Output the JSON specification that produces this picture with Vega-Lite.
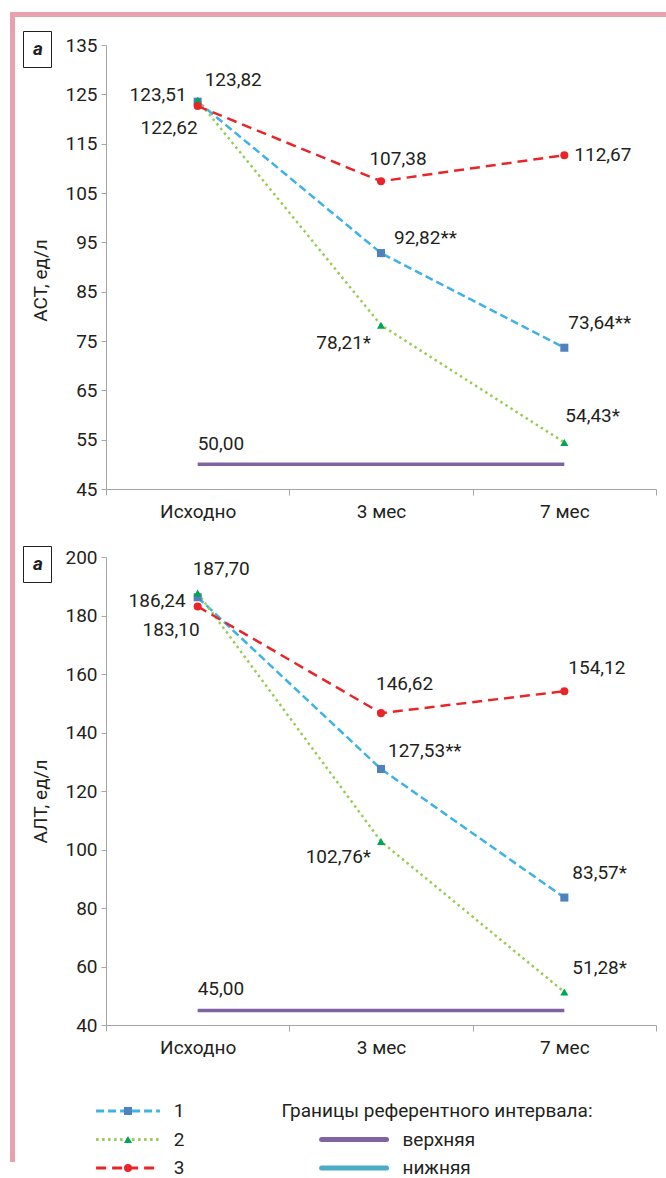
{
  "$schema": "https://vega.github.io/schema/vega-lite/v6.json",
  "background": "white",
  "padding": {"left": 9, "top": 11, "right": 0, "bottom": 0},
  "config": {
    "view": {"stroke": null},
    "font": "Roboto",
    "text": {"font": "Roboto", "fontSize": 19, "color": "#231f20"},
    "axis": {"labelFont": "Roboto", "labelFontSize": 19, "labelColor": "#231f20", "titleFont": "Roboto", "titleFontSize": 19, "titleFontWeight": "normal", "titleColor": "#231f20", "domainColor": "#a6a6a6", "tickColor": "#a6a6a6", "grid": false}
  },
  "bounds": "flush",
  "spacing": 0,
  "hconcat": [
    {"width": 5, "height": 1150, "view": {"fill": "#e9a2ad", "stroke": null}, "data": {"values": [{}]}, "mark": {"type": "point", "opacity": 0}},
    {
      "bounds": "flush",
      "spacing": 28,
      "vconcat": [
        {"width": 652, "height": 5, "view": {"fill": "#e9a2ad", "stroke": null}, "data": {"values": [{}]}, "mark": {"type": "point", "opacity": 0}},
        {
          "bounds": "flush",
          "spacing": 10,
          "hconcat": [
            {"width": 81, "height": 1, "data": {"values": [{}]}, "mark": {"type": "point", "opacity": 0}},
            {
              "bounds": "flush",
              "spacing": 68,
              "resolve": {"scale": {"x": "independent", "y": "independent", "color": "independent", "stroke": "independent", "fill": "independent", "shape": "independent", "strokeDash": "independent"}, "axis": {"x": "independent", "y": "independent"}, "legend": {"color": "independent"}},
              "vconcat": [
                {
                  "width": 550, "height": 444,
                  "data": {"values": [
                    {"m": "Исходно", "s": "1", "v": 123.51, "lab": "123,51"},
                    {"m": "3 мес", "s": "1", "v": 92.82, "lab": "92,82**"},
                    {"m": "7 мес", "s": "1", "v": 73.64, "lab": "73,64**"},
                    {"m": "Исходно", "s": "2", "v": 123.82, "lab": "123,82"},
                    {"m": "3 мес", "s": "2", "v": 78.21, "lab": "78,21*"},
                    {"m": "7 мес", "s": "2", "v": 54.43, "lab": "54,43*"},
                    {"m": "Исходно", "s": "3", "v": 122.62, "lab": "122,62"},
                    {"m": "3 мес", "s": "3", "v": 107.38, "lab": "107,38"},
                    {"m": "7 мес", "s": "3", "v": 112.67, "lab": "112,67"},
                    {"m": "Исходно", "s": "верхняя", "v": 50, "lab": "50,00"},
                    {"m": "3 мес", "s": "верхняя", "v": 50, "lab": ""},
                    {"m": "7 мес", "s": "верхняя", "v": 50, "lab": ""}
                  ]},
                  "layer": [
                    {
                      "encoding": {
                        "x": {"field": "m", "type": "nominal", "scale": {"type": "band", "domain": ["Исходно", "3 мес", "7 мес"], "paddingInner": 0, "paddingOuter": 0}, "axis": {"title": null, "labelAngle": 0, "tickBand": "extent", "tickSize": 6, "labelPadding": 7}},
                        "y": {"field": "v", "type": "quantitative", "scale": {"domain": [45, 135], "nice": false, "zero": false}, "axis": {"title": "АСТ, ед/л", "values": [45, 55, 65, 75, 85, 95, 105, 115, 125, 135], "tickSize": 5, "labelPadding": 4, "titleX": -56, "titleY": 235, "titleAngle": -90, "titleBaseline": "bottom", "titleAlign": "center"}}
                      },
                      "layer": [
                        {"transform": [{"filter": "datum.s=='верхняя'"}], "mark": {"type": "line", "color": "#8064a2", "strokeWidth": 3.5}, "encoding": {}},
                        {"transform": [{"filter": "datum.s!='верхняя'"}], "mark": {"type": "line", "strokeWidth": 2.5}, "encoding": {
                          "stroke": {"field": "s", "type": "nominal", "scale": {"domain": ["1", "2", "3"], "range": ["#3fb2e6", "#99cc55", "#e8262a"]}, "legend": null},
                          "strokeDash": {"field": "s", "type": "nominal", "scale": {"domain": ["1", "2", "3"], "range": [[8, 4], [2.5, 3.5], [10, 6]]}, "legend": null}}},
                        {"transform": [{"filter": "datum.s!='верхняя'"}], "mark": {"type": "point", "filled": true, "opacity": 1, "size": 65}, "encoding": {
                          "fill": {"field": "s", "type": "nominal", "scale": {"domain": ["1", "2", "3"], "range": ["#4f81bd", "#00a651", "#e8262a"]}, "legend": null},
                          "shape": {"field": "s", "type": "nominal", "scale": {"domain": ["1", "2", "3"], "range": ["square", "triangle-up", "circle"]}, "legend": null}}},
                        {"transform": [{"filter": "datum.s=='1' && datum.m=='Исходно'"}], "mark": {"type": "text", "align": "right", "baseline": "middle", "dx": -11, "dy": -7}, "encoding": {"text": {"field": "lab"}}},
                        {"transform": [{"filter": "datum.s=='2' && datum.m=='Исходно'"}], "mark": {"type": "text", "align": "left", "baseline": "middle", "dx": 7, "dy": -20}, "encoding": {"text": {"field": "lab"}}},
                        {"transform": [{"filter": "datum.s=='3' && datum.m=='Исходно'"}], "mark": {"type": "text", "align": "right", "baseline": "middle", "dx": 0, "dy": 22}, "encoding": {"text": {"field": "lab"}}},
                        {"transform": [{"filter": "datum.s=='3' && datum.m=='3 мес'"}], "mark": {"type": "text", "align": "center", "baseline": "middle", "dx": 17, "dy": -22}, "encoding": {"text": {"field": "lab"}}},
                        {"transform": [{"filter": "datum.s=='3' && datum.m=='7 мес'"}], "mark": {"type": "text", "align": "left", "baseline": "middle", "dx": 10, "dy": 0}, "encoding": {"text": {"field": "lab"}}},
                        {"transform": [{"filter": "datum.s=='1' && datum.m=='3 мес'"}], "mark": {"type": "text", "align": "left", "baseline": "middle", "dx": 13, "dy": -15}, "encoding": {"text": {"field": "lab"}}},
                        {"transform": [{"filter": "datum.s=='1' && datum.m=='7 мес'"}], "mark": {"type": "text", "align": "left", "baseline": "middle", "dx": 4, "dy": -25}, "encoding": {"text": {"field": "lab"}}},
                        {"transform": [{"filter": "datum.s=='2' && datum.m=='3 мес'"}], "mark": {"type": "text", "align": "right", "baseline": "middle", "dx": -10, "dy": 18}, "encoding": {"text": {"field": "lab"}}},
                        {"transform": [{"filter": "datum.s=='2' && datum.m=='7 мес'"}], "mark": {"type": "text", "align": "left", "baseline": "middle", "dx": 1, "dy": -26}, "encoding": {"text": {"field": "lab"}}},
                        {"transform": [{"filter": "datum.s=='верхняя' && datum.m=='Исходно'"}], "mark": {"type": "text", "align": "left", "baseline": "middle", "dx": 0, "dy": -20}, "encoding": {"text": {"field": "lab"}}}
                      ]
                    },
                    {
                      "data": {"values": [{"k": "a"}]},
                      "mark": {"type": "point", "opacity": 0, "size": 1},
                      "encoding": {"color": {"field": "k", "type": "nominal", "scale": {"range": ["transparent"]}, "legend": {"orient": "none", "legendX": -83, "legendY": -14, "title": null, "padding": 8, "strokeColor": "#231f20", "labelFont": "Roboto", "labelColor": "#231f20", "labelFontStyle": "italic", "labelFontWeight": "bold", "labelFontSize": 19, "symbolSize": 1, "labelOffset": -17, "symbolStrokeWidth": 0}}}
                    }
                  ]
                },
                {
                  "width": 550, "height": 468,
                  "data": {"values": [
                    {"m": "Исходно", "s": "1", "v": 186.24, "lab": "186,24"},
                    {"m": "3 мес", "s": "1", "v": 127.53, "lab": "127,53**"},
                    {"m": "7 мес", "s": "1", "v": 83.57, "lab": "83,57*"},
                    {"m": "Исходно", "s": "2", "v": 187.70, "lab": "187,70"},
                    {"m": "3 мес", "s": "2", "v": 102.76, "lab": "102,76*"},
                    {"m": "7 мес", "s": "2", "v": 51.28, "lab": "51,28*"},
                    {"m": "Исходно", "s": "3", "v": 183.10, "lab": "183,10"},
                    {"m": "3 мес", "s": "3", "v": 146.62, "lab": "146,62"},
                    {"m": "7 мес", "s": "3", "v": 154.12, "lab": "154,12"},
                    {"m": "Исходно", "s": "верхняя", "v": 45, "lab": "45,00"},
                    {"m": "3 мес", "s": "верхняя", "v": 45, "lab": ""},
                    {"m": "7 мес", "s": "верхняя", "v": 45, "lab": ""}
                  ]},
                  "layer": [
                    {
                      "encoding": {
                        "x": {"field": "m", "type": "nominal", "scale": {"type": "band", "domain": ["Исходно", "3 мес", "7 мес"], "paddingInner": 0, "paddingOuter": 0}, "axis": {"title": null, "labelAngle": 0, "tickBand": "extent", "tickSize": 6, "labelPadding": 7}},
                        "y": {"field": "v", "type": "quantitative", "scale": {"domain": [40, 200], "nice": false, "zero": false}, "axis": {"title": "АЛТ, ед/л", "values": [40, 60, 80, 100, 120, 140, 160, 180, 200], "tickSize": 5, "labelPadding": 4, "titleX": -56, "titleY": 244, "titleAngle": -90, "titleBaseline": "bottom", "titleAlign": "center"}}
                      },
                      "layer": [
                        {"transform": [{"filter": "datum.s=='верхняя'"}], "mark": {"type": "line", "color": "#8064a2", "strokeWidth": 3.5}, "encoding": {}},
                        {"transform": [{"filter": "datum.s!='верхняя'"}], "mark": {"type": "line", "strokeWidth": 2.5}, "encoding": {
                          "stroke": {"field": "s", "type": "nominal", "scale": {"domain": ["1", "2", "3"], "range": ["#3fb2e6", "#99cc55", "#e8262a"]}, "legend": null},
                          "strokeDash": {"field": "s", "type": "nominal", "scale": {"domain": ["1", "2", "3"], "range": [[8, 4], [2.5, 3.5], [10, 6]]}, "legend": null}}},
                        {"transform": [{"filter": "datum.s!='верхняя'"}], "mark": {"type": "point", "filled": true, "opacity": 1, "size": 65}, "encoding": {
                          "fill": {"field": "s", "type": "nominal", "scale": {"domain": ["1", "2", "3"], "range": ["#4f81bd", "#00a651", "#e8262a"]}, "legend": null},
                          "shape": {"field": "s", "type": "nominal", "scale": {"domain": ["1", "2", "3"], "range": ["square", "triangle-up", "circle"]}, "legend": null}}},
                        {"transform": [{"filter": "datum.s=='1' && datum.m=='Исходно'"}], "mark": {"type": "text", "align": "right", "baseline": "middle", "dx": -12, "dy": 4}, "encoding": {"text": {"field": "lab"}}},
                        {"transform": [{"filter": "datum.s=='2' && datum.m=='Исходно'"}], "mark": {"type": "text", "align": "left", "baseline": "middle", "dx": -5, "dy": -24}, "encoding": {"text": {"field": "lab"}}},
                        {"transform": [{"filter": "datum.s=='3' && datum.m=='Исходно'"}], "mark": {"type": "text", "align": "right", "baseline": "middle", "dx": 2, "dy": 24}, "encoding": {"text": {"field": "lab"}}},
                        {"transform": [{"filter": "datum.s=='3' && datum.m=='3 мес'"}], "mark": {"type": "text", "align": "left", "baseline": "middle", "dx": -5, "dy": -29}, "encoding": {"text": {"field": "lab"}}},
                        {"transform": [{"filter": "datum.s=='3' && datum.m=='7 мес'"}], "mark": {"type": "text", "align": "left", "baseline": "middle", "dx": 4, "dy": -23}, "encoding": {"text": {"field": "lab"}}},
                        {"transform": [{"filter": "datum.s=='1' && datum.m=='3 мес'"}], "mark": {"type": "text", "align": "left", "baseline": "middle", "dx": 7, "dy": -18}, "encoding": {"text": {"field": "lab"}}},
                        {"transform": [{"filter": "datum.s=='1' && datum.m=='7 мес'"}], "mark": {"type": "text", "align": "left", "baseline": "middle", "dx": 8, "dy": -25}, "encoding": {"text": {"field": "lab"}}},
                        {"transform": [{"filter": "datum.s=='2' && datum.m=='3 мес'"}], "mark": {"type": "text", "align": "right", "baseline": "middle", "dx": -10, "dy": 16}, "encoding": {"text": {"field": "lab"}}},
                        {"transform": [{"filter": "datum.s=='2' && datum.m=='7 мес'"}], "mark": {"type": "text", "align": "left", "baseline": "middle", "dx": 8, "dy": -24}, "encoding": {"text": {"field": "lab"}}},
                        {"transform": [{"filter": "datum.s=='верхняя' && datum.m=='Исходно'"}], "mark": {"type": "text", "align": "left", "baseline": "middle", "dx": 0, "dy": -21}, "encoding": {"text": {"field": "lab"}}}
                      ]
                    },
                    {
                      "data": {"values": [{"k": "a"}]},
                      "mark": {"type": "point", "opacity": 0, "size": 1},
                      "encoding": {"color": {"field": "k", "type": "nominal", "scale": {"range": ["transparent"]}, "legend": {"orient": "none", "legendX": -83, "legendY": -11, "title": null, "padding": 8, "strokeColor": "#231f20", "labelFont": "Roboto", "labelColor": "#231f20", "labelFontStyle": "italic", "labelFontWeight": "bold", "labelFontSize": 19, "symbolSize": 1, "labelOffset": -17, "symbolStrokeWidth": 0}}}
                    }
                  ]
                },
                {
                  "width": 550, "height": 93,
                  "resolve": {"scale": {"y": "independent", "stroke": "independent"}},
                  "layer": [
                    {
                      "data": {"values": [{"s": "1"}, {"s": "2"}, {"s": "3"}]},
                      "encoding": {"y": {"field": "s", "type": "nominal", "scale": {"type": "point", "domain": ["1", "2", "3"], "padding": 0.63}, "axis": null}},
                      "layer": [
                        {"mark": {"type": "rule", "strokeWidth": 3}, "encoding": {
                          "x": {"datum": -1.8, "type": "quantitative", "scale": {"domain": [0, 100]}, "axis": null},
                          "x2": {"datum": 9.8},
                          "stroke": {"field": "s", "type": "nominal", "scale": {"domain": ["1", "2", "3"], "range": ["#3fb2e6", "#99cc55", "#e8262a"]}, "legend": null},
                          "strokeDash": {"field": "s", "type": "nominal", "scale": {"domain": ["1", "2", "3"], "range": [[8, 4], [2.5, 3.5], [10, 6]]}, "legend": null}}},
                        {"mark": {"type": "point", "filled": true, "opacity": 1, "size": 65}, "encoding": {
                          "x": {"datum": 4, "type": "quantitative", "scale": {"domain": [0, 100]}, "axis": null},
                          "fill": {"field": "s", "type": "nominal", "scale": {"domain": ["1", "2", "3"], "range": ["#4f81bd", "#00a651", "#e8262a"]}, "legend": null},
                          "shape": {"field": "s", "type": "nominal", "scale": {"domain": ["1", "2", "3"], "range": ["square", "triangle-up", "circle"]}, "legend": null}}},
                        {"mark": {"type": "text", "align": "left", "baseline": "middle"}, "encoding": {
                          "x": {"datum": 12.3, "type": "quantitative", "scale": {"domain": [0, 100]}, "axis": null},
                          "text": {"field": "s"}}}
                      ]
                    },
                    {
                      "data": {"values": [{"r": "Границы референтного интервала:", "kind": "header"}, {"r": "верхняя", "kind": "item"}, {"r": "нижняя", "kind": "item"}]},
                      "encoding": {"y": {"field": "r", "type": "nominal", "scale": {"type": "point", "domain": ["Границы референтного интервала:", "верхняя", "нижняя"], "padding": 0.63}, "axis": null}},
                      "layer": [
                        {"transform": [{"filter": "datum.kind=='item'"}], "mark": {"type": "rule", "strokeWidth": 5, "strokeCap": "round"}, "encoding": {
                          "x": {"datum": 39.2, "type": "quantitative", "scale": {"domain": [0, 100]}, "axis": null},
                          "x2": {"datum": 51},
                          "stroke": {"field": "r", "type": "nominal", "scale": {"domain": ["верхняя", "нижняя"], "range": ["#8064a2", "#4bacc6"]}, "legend": null}}},
                        {"transform": [{"filter": "datum.kind=='item'"}], "mark": {"type": "text", "align": "left", "baseline": "middle"}, "encoding": {
                          "x": {"datum": 53.9, "type": "quantitative", "scale": {"domain": [0, 100]}, "axis": null},
                          "text": {"field": "r"}}},
                        {"transform": [{"filter": "datum.kind=='header'"}], "mark": {"type": "text", "align": "left", "baseline": "middle"}, "encoding": {
                          "x": {"datum": 31.9, "type": "quantitative", "scale": {"domain": [0, 100]}, "axis": null},
                          "text": {"field": "r"}}}
                      ]
                    }
                  ]
                }
              ]
            }
          ]
        }
      ]
    }
  ]
}
